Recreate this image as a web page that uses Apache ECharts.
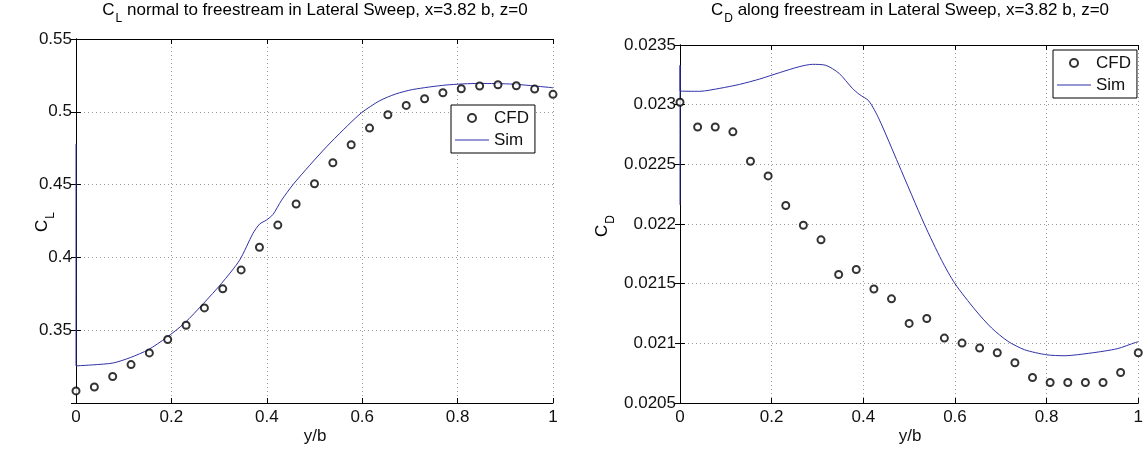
<!DOCTYPE html>
<html>
<head>
<meta charset="utf-8">
<script src="https://cdn.jsdelivr.net/npm/echarts@6/dist/echarts.min.js"></script>
<style>html,body{margin:0;padding:0;background:#fff}#c{width:1146px;height:449px}</style>
</head>
<body>
<div id="c"></div>
<script>
// ---- data ----
var cfdX = [0, 0.0385, 0.0769, 0.1154, 0.1538, 0.1923, 0.2308, 0.2692, 0.3077, 0.3462, 0.3846, 0.4231, 0.4615, 0.5, 0.5385, 0.5769, 0.6154, 0.6538, 0.6923, 0.7308, 0.7692, 0.8077, 0.8462, 0.8846, 0.9231, 0.9615, 1];
var clCFD = [0.3083, 0.311, 0.3182, 0.3264, 0.3344, 0.3436, 0.3534, 0.3653, 0.3784, 0.3914, 0.4070, 0.4222, 0.4367, 0.4506, 0.465, 0.4774, 0.4888, 0.498, 0.5044, 0.509, 0.5131, 0.5158, 0.5177, 0.5186, 0.5179, 0.5156, 0.512];
var cdCFD = [0.02302, 0.022813, 0.022813, 0.022772, 0.022526, 0.022403, 0.022155, 0.02199, 0.021867, 0.021577, 0.021619, 0.021455, 0.021373, 0.021167, 0.021208, 0.021044, 0.021002, 0.02096, 0.020921, 0.020837, 0.020714, 0.020672, 0.020672, 0.020672, 0.020672, 0.020756, 0.020921];

var clSimX = [0, 0, 0.036, 0.078, 0.114, 0.152, 0.19, 0.228, 0.267, 0.305, 0.343, 0.371, 0.385, 0.399, 0.413, 0.431, 0.455, 0.49, 0.525, 0.56, 0.598, 0.636, 0.67, 0.706, 0.776, 0.846, 0.916, 0.991, 1];
var clSimY = [0.478, 0.3255, 0.3262, 0.3275, 0.3312, 0.3367, 0.345, 0.355, 0.3683, 0.3821, 0.3981, 0.4165, 0.4229, 0.4256, 0.4295, 0.4393, 0.45, 0.4633, 0.4759, 0.4875, 0.4992, 0.5075, 0.5122, 0.5153, 0.5184, 0.5195, 0.519, 0.5168, 0.5165];

var cdSimX = [0, 0, 0, 0.043, 0.087, 0.13, 0.174, 0.217, 0.26, 0.289, 0.318, 0.347, 0.376, 0.391, 0.412, 0.434, 0.477, 0.533, 0.571, 0.6, 0.644, 0.68, 0.716, 0.752, 0.8, 0.838, 0.897, 0.954, 0.994, 1];
var cdSimY = [0.02216, 0.02333, 0.023115, 0.023112, 0.023137, 0.02317, 0.023215, 0.023268, 0.023318, 0.023338, 0.02333, 0.023263, 0.023137, 0.023087, 0.023031, 0.022882, 0.0225, 0.022, 0.021695, 0.0215, 0.021281, 0.021128, 0.021016, 0.020946, 0.020904, 0.020896, 0.020919, 0.020955, 0.021007, 0.021012];

var titleL = ['C', 'L', ' normal to freestream in Lateral Sweep, x=3.82 b, z=0'];
var titleR = ['C', 'D', ' along freestream in Lateral Sweep, x=3.82 b, z=0'];
var xName = 'y/b';
var yNameL = ['C', 'L'];
var yNameR = ['C', 'D'];

function zip(a, b) { return a.map(function (v, i) { return [v, b[i]]; }); }

var FONT = 'Liberation Sans, Arial, Helvetica, sans-serif';
var BLUE = '#3030a8';
var TXT = '#111';

var rich = {
  m: { fontSize: 17, lineHeight: 20, verticalAlign: 'top', fontFamily: FONT, color: TXT },
  s: { fontSize: 12, lineHeight: 14, verticalAlign: 'top', padding: [11, 0, 0, 1], fontFamily: FONT, color: TXT }
};
function subText(parts) {
  return '{m|' + parts[0] + '}{s|' + parts[1] + '}' + (parts[2] ? '{m|' + parts[2] + '}' : '');
}

function xAxes(gi) {
  return [
    { type: 'value', gridIndex: gi, min: 0, max: 1, interval: 0.2, position: 'bottom',
      axisLine: { show: true, lineStyle: { color: '#000', width: 1 } },
      axisTick: { show: true, inside: true, length: 5, lineStyle: { color: '#000' } },
      axisLabel: { show: true, margin: 6, fontSize: 17, fontFamily: FONT, color: TXT,
        formatter: function (v) { return String(+v.toFixed(1)); } },
      splitLine: { show: true, lineStyle: { color: '#9a9a9a', type: [1, 3], width: 1 } } },
    { type: 'value', gridIndex: gi, min: 0, max: 1, interval: 0.2, position: 'top',
      axisLine: { show: true, lineStyle: { color: '#000', width: 1 } },
      axisTick: { show: true, inside: true, length: 5, lineStyle: { color: '#000' } },
      axisLabel: { show: false }, splitLine: { show: false } }
  ];
}
function yAxes(gi, min, max, interval, fmt) {
  return [
    { type: 'value', gridIndex: gi, min: min, max: max, interval: interval, position: 'left',
      axisLine: { show: true, lineStyle: { color: '#000', width: 1 } },
      axisTick: { show: true, inside: true, length: 5, lineStyle: { color: '#000' } },
      axisLabel: { show: true, margin: 4, fontSize: 17, fontFamily: FONT, color: TXT, formatter: fmt },
      splitLine: { show: true, lineStyle: { color: '#9a9a9a', type: [1, 3], width: 1 } } },
    { type: 'value', gridIndex: gi, min: min, max: max, interval: interval, position: 'right',
      axisLine: { show: true, lineStyle: { color: '#000', width: 1 } },
      axisTick: { show: true, inside: true, length: 5, lineStyle: { color: '#000' } },
      axisLabel: { show: false }, splitLine: { show: false } }
  ];
}

function legend(left, top) {
  return {
    data: [
      { name: 'CFD' },
      { name: 'Sim', icon: 'path://M0,0h34v1h-34z', itemStyle: { color: BLUE } }
    ],
    orient: 'vertical', left: left, top: top,
    backgroundColor: '#fff', borderColor: '#000', borderWidth: 1,
    padding: [3, 6, 3, 4], itemGap: 2, itemWidth: 34, itemHeight: 8,
    symbolKeepAspect: true,
    textStyle: { fontSize: 17, fontFamily: FONT, color: TXT, lineHeight: 20 },
    selectedMode: false
  };
}

var option = {
  animation: false,
  backgroundColor: '#fff',
  grid: [
    { left: 76, top: 39, width: 477, height: 364, show: false },
    { left: 680, top: 45, width: 461, height: 358, show: false }
  ],
  xAxis: xAxes(0).concat(xAxes(1)),
  yAxis: yAxes(0, 0.3, 0.55, 0.05, function (v) { return v < 0.31 ? '' : String(+v.toFixed(2)); })
    .concat(yAxes(1, 0.0205, 0.0235, 0.0005, function (v) { return String(+v.toFixed(4)); })),
  legend: [legend(451, 105), legend(1053, 50)],
  series: [
    { name: 'Sim', type: 'line', xAxisIndex: 0, yAxisIndex: 0, data: zip(clSimX, clSimY),
      symbol: 'none', smooth: 0.25, clip: false, lineStyle: { color: BLUE, width: 1 }, itemStyle: { color: BLUE }, z: 3 },
    { name: 'CFD', type: 'scatter', xAxisIndex: 0, yAxisIndex: 0, data: zip(cfdX, clCFD),
      symbol: 'emptyCircle', symbolSize: 7, clip: false, itemStyle: { color: '#000', borderColor: '#000', borderWidth: 0.9 }, z: 4 },
    { name: 'Sim', type: 'line', xAxisIndex: 2, yAxisIndex: 2, data: zip(cdSimX, cdSimY),
      symbol: 'none', smooth: 0.25, clip: false, lineStyle: { color: BLUE, width: 1 }, itemStyle: { color: BLUE }, z: 3 },
    { name: 'CFD', type: 'scatter', xAxisIndex: 2, yAxisIndex: 2, data: zip(cfdX, cdCFD),
      symbol: 'emptyCircle', symbolSize: 7, clip: false, itemStyle: { color: '#000', borderColor: '#000', borderWidth: 0.9 }, z: 4 }
  ],
  graphic: [
    { type: 'text', x: 315, y: 2, style: { text: subText(titleL), rich: rich, align: 'center', verticalAlign: 'top' } },
    { type: 'text', x: 910, y: 2, style: { text: subText(titleR), rich: rich, align: 'center', verticalAlign: 'top' } },
    { type: 'text', x: 315, y: 428, style: { text: xName, fontSize: 17, fontFamily: FONT, fill: TXT, align: 'center', verticalAlign: 'top' } },
    { type: 'text', x: 910, y: 428, style: { text: xName, fontSize: 17, fontFamily: FONT, fill: TXT, align: 'center', verticalAlign: 'top' } },
    { type: 'text', x: 44, y: 222, rotation: Math.PI / 2, style: { text: subText(yNameL), rich: rich, align: 'center', verticalAlign: 'middle' } },
    { type: 'text', x: 604, y: 226, rotation: Math.PI / 2, style: { text: subText(yNameR), rich: rich, align: 'center', verticalAlign: 'middle' } }
  ]
};

var chart = echarts.init(document.getElementById('c'), null, { renderer: 'canvas' });
chart.setOption(option);
</script>
</body>
</html>
